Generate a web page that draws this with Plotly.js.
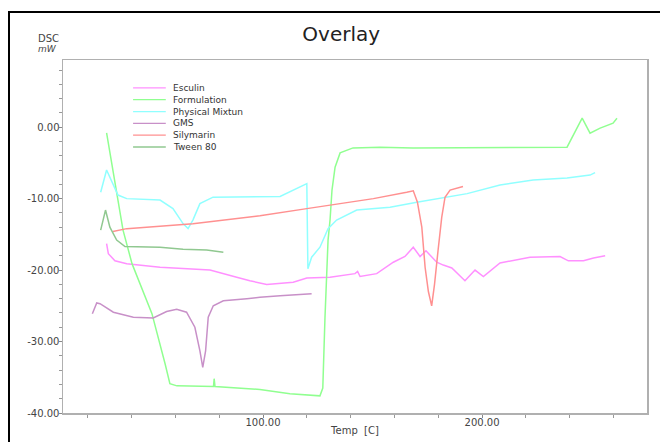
<!DOCTYPE html>
<html>
<head>
<meta charset="utf-8">
<script src="https://cdn.plot.ly/plotly-3.0.1.min.js"></script>
<style>
html,body{margin:0;padding:0;background:#fff;}
#wrap{position:relative;width:660px;height:442px;overflow:hidden;}
#chart{width:660px;height:442px;}
#frame{position:absolute;left:8px;top:11px;width:700px;height:500px;border-left:2px solid #000;border-top:2px solid #000;pointer-events:none;}
</style>
</head>
<body>
<div id="wrap"><div id="chart"></div><div id="frame"></div></div>
<script>
// Series names and colours
const seriesNames = ["Esculin", "Formulation", "Physical Mixtun", "GMS", "Silymarin", "Tween 80"];
const seriesColors = ["#ff90ff", "#90ff90", "#90ffff", "#c890c8", "#ff9090", "#90c890"];

// Esculin
const esculinT = [28.6,29.4,32.4,37.8,53,75.8,88,94,101.7,113.8,120,130.6,142,143.2,144.3,151.9,159.5,164.8,168.6,171.7,174.4,179.3,182.3,186.2,192.2,196.8,200.6,208.2,221.9,235.6,239.4,246.3,250.9,256.2];
const esculinY = [-16.3,-17.7,-18.7,-19.1,-19.6,-20.0,-21.0,-21.5,-22.0,-21.7,-21.1,-21.0,-20.5,-20.2,-20.9,-20.5,-18.9,-18.1,-16.8,-18.1,-17.3,-18.9,-19.3,-19.7,-21.5,-20.0,-20.9,-19.0,-18.2,-18.1,-18.7,-18.7,-18.3,-18.0];

// Formulation
const formulationT = [28.6,36.1,40.2,49.3,55.3,57.5,60.7,77.4,77.7,78.1,98.6,112.3,126,127.3,128.3,129.2,129.7,130.6,131.5,132.9,135.2,141.1,153.4,168.5,184,232.4,238.8,245.7,249.3,253.9,259.8,261.6];
const formulationY = [-0.8,-14.4,-19.1,-26.1,-33.1,-35.9,-36.2,-36.3,-35.2,-36.3,-36.7,-37.3,-37.6,-36.5,-26.6,-17.7,-15.8,-13.0,-8.8,-5.6,-3.6,-2.9,-2.8,-2.9,-2.9,-2.9,-2.8,1.26,-0.84,-0.14,0.56,1.26];

// Physical Mixture
const physicalT = [25.9,28.6,33.8,37.8,53,58.9,63.5,65.8,68,71.2,77.2,98.6,107.8,120,120.5,122.2,126,129.7,133.6,142.8,158,170.2,180.8,193.2,208.2,223.3,238.8,249.3,251.6];
const physicalY = [-9.1,-6.0,-9.5,-10.0,-10.2,-11.4,-13.5,-14.2,-13.0,-10.7,-9.8,-9.7,-9.7,-7.9,-19.8,-18.2,-16.8,-14.2,-13.0,-11.6,-11.2,-10.5,-9.9,-9.3,-8.1,-7.4,-7.1,-6.7,-6.35];

// GMS
const gmsT = [22.1,24.1,25.6,31.7,40.8,49.9,56,60.6,65.1,68.9,71.2,72.5,73.8,75,77.3,81.9,92.6,98.6,107.8,122.2];
const gmsY = [-26.1,-24.6,-24.7,-25.9,-26.6,-26.7,-25.8,-25.5,-25.9,-28.0,-31.3,-33.6,-31.3,-26.6,-25.0,-24.3,-24.0,-23.8,-23.6,-23.3];

// Silymarin
const silymarinT = [31.5,37.8,68,83.4,98.6,120,150.4,165.6,168.6,170.5,172.5,174,175.5,177,178.3,179.9,181.6,183.1,185.4,191.3];
const silymarinY = [-14.6,-14.2,-13.5,-12.95,-12.4,-11.4,-10.0,-9.1,-8.9,-10.5,-14.0,-19.6,-23.0,-25.0,-22.0,-17.3,-12.6,-9.8,-8.8,-8.3];

// Tween 80
const tweenT = [25.9,28.1,30.1,33.2,37,53,63.5,74.3,81.9];
const tweenY = [-14.4,-11.6,-14.0,-15.8,-16.7,-16.8,-17.1,-17.2,-17.5];

// Tick labels
const xTickVals = [100, 200];
const xTickText = ["100.00", "200.00"];
const yTickVals = [0, -10, -20, -30, -40];
const yTickText = ["0.00", "-10.00", "-20.00", "-30.00", "-40.00"];

const seriesX = [esculinT, formulationT, physicalT, gmsT, silymarinT, tweenT];
const seriesY = [esculinY, formulationY, physicalY, gmsY, silymarinY, tweenY];

const FONT = "DejaVu Sans, Arial, sans-serif";

const traces = seriesNames.map((n, i) => ({
  type: "scatter", mode: "lines", name: n,
  x: seriesX[i], y: seriesY[i],
  line: {color: seriesColors[i], width: 1.5},
  showlegend: false, hoverinfo: "skip"
}));

// Manual compact legend (paper coordinates)
const legX0 = 0.120, legX1 = 0.176, legTextX = 0.185, legY0 = 0.921, legStep = 0.0335;
const shapes = [];
const annotations = [];
seriesNames.forEach((n, i) => {
  const yy = legY0 - i * legStep;
  shapes.push({type: "line", xref: "paper", yref: "paper", x0: legX0, x1: legX1, y0: yy, y1: yy,
    line: {color: seriesColors[i], width: 1.3}});
  annotations.push({xref: "paper", yref: "paper", x: legTextX, y: yy, text: n, showarrow: false,
    xanchor: "left", yanchor: "middle", font: {family: FONT, size: 9, color: "#333"}});
});
annotations.push({xref: "paper", yref: "paper", x: -0.046, y: 1.06, text: "DSC", showarrow: false,
  xanchor: "left", yanchor: "middle", font: {family: FONT, size: 10, color: "#444"}});
annotations.push({xref: "paper", yref: "paper", x: -0.046, y: 1.031, text: "<i>mW</i>", showarrow: false,
  xanchor: "left", yanchor: "middle", font: {family: FONT, size: 9, color: "#444"}});

const layout = {
  width: 660, height: 442,
  margin: {l: 63, r: 13, t: 60, b: 29},
  paper_bgcolor: "#fff", plot_bgcolor: "#fff",
  title: {text: "Overlay", x: 0.517, xref: "container", xanchor: "center",
    y: 0.922, yref: "container", yanchor: "middle",
    font: {family: FONT, size: 20, color: "#222"}},
  xaxis: {
    range: [8.7, 275.3], showgrid: false, zeroline: false,
    tickmode: "array", tickvals: xTickVals, ticktext: xTickText,
    ticks: "outside", ticklen: 3, tickcolor: "#888", ticklabelstandoff: -4,
    minor: {tickmode: "linear", tick0: 0, dtick: 20, ticks: "outside", ticklen: 3, tickcolor: "#999"},
    showline: true, mirror: true, linecolor: "#b0b0b0", linewidth: 1.5,
    tickfont: {family: FONT, size: 10, color: "#444"},
    title: {text: "Temp  [C]", standoff: 0, font: {family: FONT, size: 10, color: "#444"}}
  },
  yaxis: {
    range: [-40, 9.4], showgrid: false, zeroline: false,
    tickmode: "array", tickvals: yTickVals, ticktext: yTickText,
    ticks: "outside", ticklen: 3, tickcolor: "#888", ticklabelstandoff: -3,
    minor: {tickmode: "linear", tick0: 0, dtick: 2, ticks: "outside", ticklen: 3, tickcolor: "#999"},
    showline: true, mirror: true, linecolor: "#b0b0b0", linewidth: 1.5,
    tickfont: {family: FONT, size: 10, color: "#444"}
  },
  shapes: shapes,
  annotations: annotations
};

Plotly.newPlot("chart", traces, layout, {displayModeBar: false, staticPlot: true});
</script>
</body>
</html>
